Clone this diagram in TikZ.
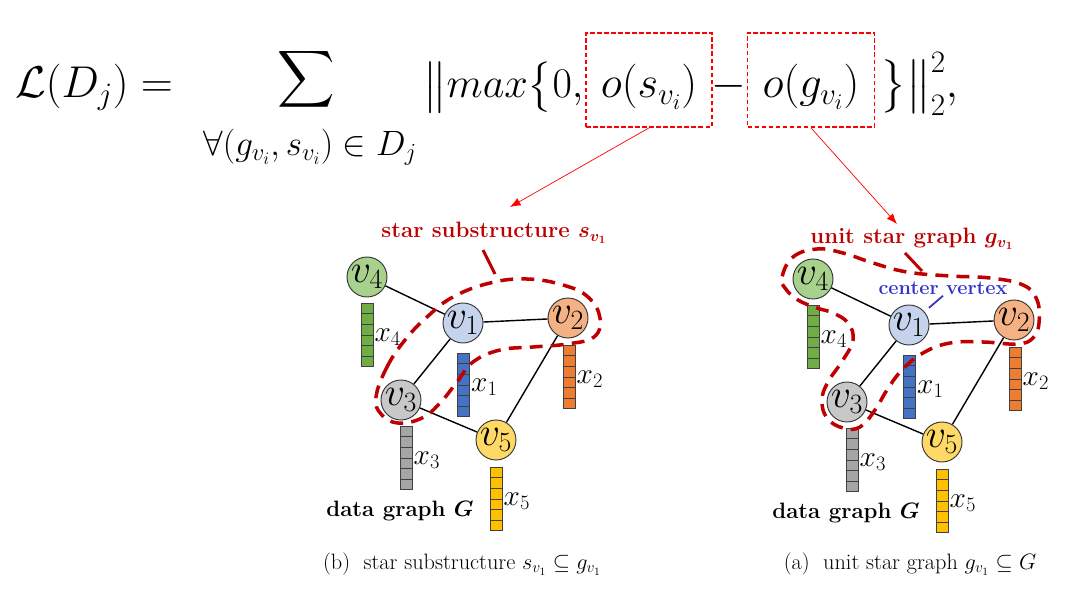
\documentclass[tikz,border=0pt]{standalone}
\usepackage{fix-cm}
\usepackage{amsmath,amssymb,bm}
\usetikzlibrary{arrows.meta, calc}

\definecolor{regionred}{HTML}{C00000}
\definecolor{centerblue}{HTML}{3333CC}
\definecolor{nodeG}{HTML}{A9D18E}
\definecolor{nodeB}{HTML}{C5D3EC}
\definecolor{nodeO}{HTML}{F4B183}
\definecolor{nodeS}{HTML}{C8C8C8}
\definecolor{nodeY}{HTML}{FFD966}
\definecolor{barG}{HTML}{70AD47}
\definecolor{barB}{HTML}{4472C4}
\definecolor{barO}{HTML}{ED7D31}
\definecolor{barS}{HTML}{A5A5A5}
\definecolor{barY}{HTML}{FFC000}

\tikzset{
	vtx/.style={circle, draw=black!80, line width=0.8pt, minimum size=1.2cm, inner sep=0pt, font=\fontsize{34}{36}\selectfont},
	featbar/.style={draw=black!75, line width=0.5pt, minimum width=0.36cm, minimum height=1.9cm, inner sep=0pt, anchor=north},
	featlbl/.style={font=\fontsize{25}{27}\selectfont, inner sep=1pt, anchor=west},
	gedge/.style={line width=1.2pt},
	region/.style={draw=regionred, line width=3pt, dash pattern=on 11pt off 7pt},
	redlbl/.style={text=regionred, font=\fontsize{19}{21}\selectfont\bfseries},
	formula/.style={font=\fontsize{38}{42}\selectfont, inner sep=0pt},
	termbox/.style={formula, draw=red, line width=1.5pt, dash pattern=on 4pt off 2pt, minimum width=3.78cm, text height=1.95cm, text depth=0.87cm, anchor=base},
	pointer/.style={red, line width=0.6pt, -{Latex[length=9pt, width=7pt]}},
	caption/.style={font=\fontsize{19}{22}\selectfont}
}

% feature bar: name, top point, colour, label
\newcommand{\featbar}[4]{
	\node[featbar, fill=#3] (#1) at (#2) {};
	\foreach \k in {1,...,5}
		\draw[black!75, line width=0.5pt] ($(#1.north west)!\k/6!(#1.south west)$) -- ($(#1.north east)!\k/6!(#1.south east)$);
	\node[featlbl] (#1l) at ([yshift=-2pt]#1.east) {$#4$};
}

% the data graph G with its feature bars
\newcommand{\datagraph}{
	\node[vtx, fill=nodeG] (v4) at (367,277) {$v_4$};
	\node[vtx, fill=nodeB] (v1) at (463,323) {$v_1$};
	\node[vtx, fill=nodeO] (v2) at (568,318) {$v_2$};
	\node[vtx, fill=nodeS] (v3) at (401,400) {$v_3$};
	\node[vtx, fill=nodeY] (v5) at (496,440) {$v_5$};
	\draw[gedge] (v4) -- (v1) -- (v2) -- (v5) -- (v3) -- (v1);
	\featbar{x4}{367,303}{barG}{x_4}
	\featbar{x1}{463.5,353}{barB}{x_1}
	\featbar{x2}{569,345}{barO}{x_2}
	\featbar{x3}{406,426}{barS}{x_3}
	\featbar{x5}{496,467}{barY}{x_5}
	\node[font=\fontsize{19}{21}\selectfont\bfseries] (gname) at (400,511) {data graph $\bm{G}$};
}

\begin{document}
\begin{tikzpicture}[x=0.03cm, y=-0.03cm]
	\path[fill=white, use as bounding box] (0,0) rectangle (1080,592);

	% loss formula
	\node[formula, anchor=base west] (lhs) at (15,98) {$\mathcal{L}(D_j) =$};
	\node[formula, font=\fontsize{34}{38}\selectfont] (sum) at (306,79) {$\displaystyle\sum$};
	\node[formula, font=\fontsize{30}{32}\selectfont] (sumidx) at (310,147) {$\forall(g_{v_i},s_{v_i})\in D_j$};
	\node[formula, font=\fontsize{36}{40}\selectfont, anchor=base west] (maxterm) at (423,98) {$\big\|max\big\{0,\!$};
	\node[termbox] (sbox) at (649,98) {$o(s_{v_i})$};
	\node[formula, anchor=base] (minus) at (729,98) {$-$};
	\node[termbox, minimum width=3.81cm] (gbox) at (811,98) {$o(g_{v_i})$};
	\node[formula, anchor=base west] (normend) at (880,98) {$\big\}\big\|_2^2,$};

	\coordinate (bTip) at (510,207); \coordinate (aTip) at (897,224);
	\draw[pointer] (sbox.south) -- (bTip);
	\draw[pointer] (gbox.south) -- (aTip);

	\begin{scope}[name prefix=b-]
		\datagraph
	\end{scope}
	\begin{scope}[shift={(446,2)}, name prefix=a-]
		\datagraph
	\end{scope}

	% star substructure
	\draw[region] plot[smooth cycle, tension=0.7] coordinates {(376,397) (387,367) (405,340) (427,317) (453,297) (490,283) (527,279) (563,285) (588,297) (600,318) (594,337) (567,344) (533,347) (500,350) (473,362) (457,382) (440,403) (422,418) (398,423) (381,414)};
	\node[redlbl] (sLbl) at (494,233) {star substructure $\bm{s_{v_1}}$};
	\coordinate (sFoot) at (483,250); \coordinate (sTip) at (495,274);
	\draw[regionred, line width=2.5pt] (sFoot) -- (sTip);

	% unit star graph
	\draw[region] plot[smooth cycle, tension=0.7] coordinates {(782,277) (793,257) (817,249) (843,253) (873,263) (907,272) (950,276) (990,278) (1023,285) (1037,300) (1039,323) (1033,338) (1017,344) (983,342) (950,343) (923,353) (902,370) (887,390) (875,410) (860,427) (843,428) (827,418) (822,400) (828,382) (843,360) (853,340) (848,323) (833,313) (817,308) (798,300) (785,288)};
	\node[redlbl] (gLbl) at (912,239) {unit star graph $\bm{g_{v_1}}$};
	\coordinate (gFoot) at (905,253); \coordinate (gTip) at (922,271);
	\draw[regionred, line width=2.5pt] (gFoot) -- (gTip);
	\node[text=centerblue, font=\fontsize{17}{19}\selectfont\bfseries, inner sep=1pt] (cLbl) at (943,288) {center vertex};
	\draw[centerblue, line width=1.5pt, shorten >=5pt] (cLbl.south) -- (a-v1);

	\node[caption] (capB) at (462,564) {(b)\ \ star substructure $s_{v_1}\subseteq g_{v_1}$};
	\node[caption] (capA) at (910,564) {(a)\ \ unit star graph $g_{v_1}\subseteq G$};
\end{tikzpicture}
\end{document}
